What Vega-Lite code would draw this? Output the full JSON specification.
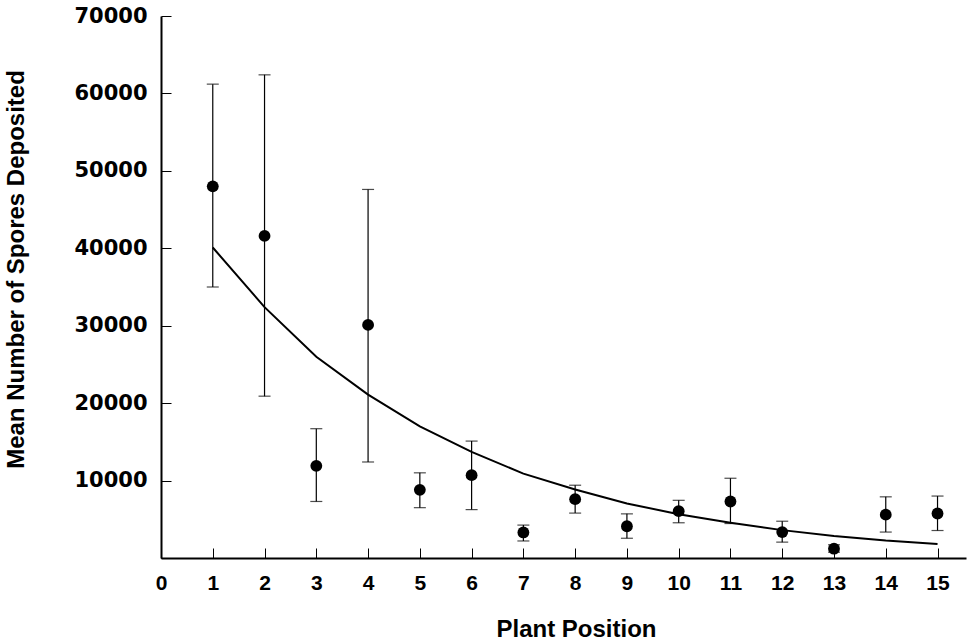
{
  "$schema": "https://vega.github.io/schema/vega-lite/v6.json",
  "width": 805,
  "height": 542,
  "autosize": "none",
  "padding": {"left": 161, "top": 16, "right": 5, "bottom": 82},
  "background": "white",
  "config": {"view": {"stroke": null}},
  "datasets": {
    "obs": [
      {"pos": 1, "mean": 48000, "lo": 35000, "hi": 61200},
      {"pos": 2, "mean": 41600, "lo": 20900, "hi": 62400},
      {"pos": 3, "mean": 11900, "lo": 7300, "hi": 16700},
      {"pos": 4, "mean": 30100, "lo": 12400, "hi": 47600},
      {"pos": 5, "mean": 8800, "lo": 6500, "hi": 11000},
      {"pos": 6, "mean": 10700, "lo": 6250, "hi": 15100},
      {"pos": 7, "mean": 3300, "lo": 2200, "hi": 4250},
      {"pos": 8, "mean": 7600, "lo": 5800, "hi": 9400},
      {"pos": 9, "mean": 4100, "lo": 2550, "hi": 5700},
      {"pos": 10, "mean": 6050, "lo": 4550, "hi": 7450},
      {"pos": 11, "mean": 7300, "lo": 4450, "hi": 10300},
      {"pos": 12, "mean": 3350, "lo": 2050, "hi": 4750},
      {"pos": 13, "mean": 1200, "lo": 750, "hi": 1700},
      {"pos": 14, "mean": 5600, "lo": 3350, "hi": 7900},
      {"pos": 15, "mean": 5750, "lo": 3550, "hi": 8000}
    ],
    "curve": [
      {"pos": 1, "fit": 40100},
      {"pos": 2, "fit": 32400},
      {"pos": 3, "fit": 26000},
      {"pos": 4, "fit": 21100},
      {"pos": 5, "fit": 17000},
      {"pos": 6, "fit": 13700},
      {"pos": 7, "fit": 10900},
      {"pos": 8, "fit": 8850},
      {"pos": 9, "fit": 7050},
      {"pos": 10, "fit": 5650},
      {"pos": 11, "fit": 4550},
      {"pos": 12, "fit": 3600},
      {"pos": 13, "fit": 2850},
      {"pos": 14, "fit": 2250},
      {"pos": 15, "fit": 1800}
    ]
  },
  "layer": [
    {
      "data": {"name": "curve"},
      "mark": {"type": "line", "color": "black", "strokeWidth": 2},
      "encoding": {
        "x": {
          "field": "pos", "type": "quantitative",
          "scale": {"domain": [0, 15.55], "nice": false, "zero": false},
          "axis": {
            "title": "Plant Position",
            "grid": false,
            "values": [0,0.5,1,1.5,2,2.5,3,3.5,4,4.5,5,5.5,6,6.5,7,7.5,8,8.5,9,9.5,10,10.5,11,11.5,12,12.5,13,13.5,14,14.5,15],
            "labelExpr": "datum.value % 1 === 0 ? format(datum.value, 'd') : ''",
            "labelOverlap": false,
            "labelFlush": false,
            "labelBound": false,
            "domainColor": "black",
            "domainWidth": 2,
            "tickColor": "black",
            "tickWidth": 1,
            "tickSize": {"condition": {"test": "datum.value % 1 === 0", "value": -10}, "value": -5},
            "labelPadding": {"condition": {"test": "datum.value % 1 === 0", "value": 24}, "value": 19},
            "labelFont": "Liberation Sans",
            "labelFontWeight": "bold",
            "labelFontSize": 21,
            "labelColor": "black",
            "titleFont": "Liberation Sans",
            "titleFontWeight": "bold",
            "titleFontSize": 24,
            "titleColor": "black",
            "titleX": 415,
            "titleY": 78,
            "titleBaseline": "alphabetic",
            "titleAlign": "center"
          }
        },
        "y": {
          "field": "fit", "type": "quantitative",
          "scale": {"domain": [0, 70000], "nice": false},
          "axis": {
            "title": "Mean Number of Spores Deposited",
            "grid": false,
            "values": [0,5000,10000,15000,20000,25000,30000,35000,40000,45000,50000,55000,60000,65000,70000],
            "labelExpr": "datum.value > 0 && datum.value % 10000 === 0 ? format(datum.value, 'd') : ''",
            "labelOverlap": false,
            "labelFlush": false,
            "labelBound": false,
            "domainColor": "black",
            "domainWidth": 2,
            "tickColor": "black",
            "tickWidth": 1,
            "tickSize": -10,
            "labelPadding": 24,
            "labelFont": "DejaVu Sans",
            "labelFontWeight": "bold",
            "labelFontSize": 21,
            "labelColor": "black",
            "titleFont": "Liberation Sans",
            "titleFontWeight": "bold",
            "titleFontSize": 24,
            "titleColor": "black",
            "titleAngle": 270,
            "titleX": -138,
            "titleY": 253,
            "titleBaseline": "alphabetic",
            "titleAlign": "center"
          }
        }
      }
    },
    {
      "data": {"name": "obs"},
      "mark": {"type": "rule", "color": "black", "strokeWidth": 1.2},
      "encoding": {
        "x": {"field": "pos", "type": "quantitative"},
        "y": {"field": "lo", "type": "quantitative"},
        "y2": {"field": "hi"}
      }
    },
    {
      "data": {"name": "obs"},
      "mark": {"type": "tick", "orient": "horizontal", "color": "black", "size": 12, "thickness": 1.2},
      "encoding": {
        "x": {"field": "pos", "type": "quantitative"},
        "y": {"field": "lo", "type": "quantitative"}
      }
    },
    {
      "data": {"name": "obs"},
      "mark": {"type": "tick", "orient": "horizontal", "color": "black", "size": 12, "thickness": 1.2},
      "encoding": {
        "x": {"field": "pos", "type": "quantitative"},
        "y": {"field": "hi", "type": "quantitative"}
      }
    },
    {
      "data": {"name": "obs"},
      "mark": {"type": "circle", "color": "black", "opacity": 1, "size": 140},
      "encoding": {
        "x": {"field": "pos", "type": "quantitative"},
        "y": {"field": "mean", "type": "quantitative"}
      }
    }
  ]
}
